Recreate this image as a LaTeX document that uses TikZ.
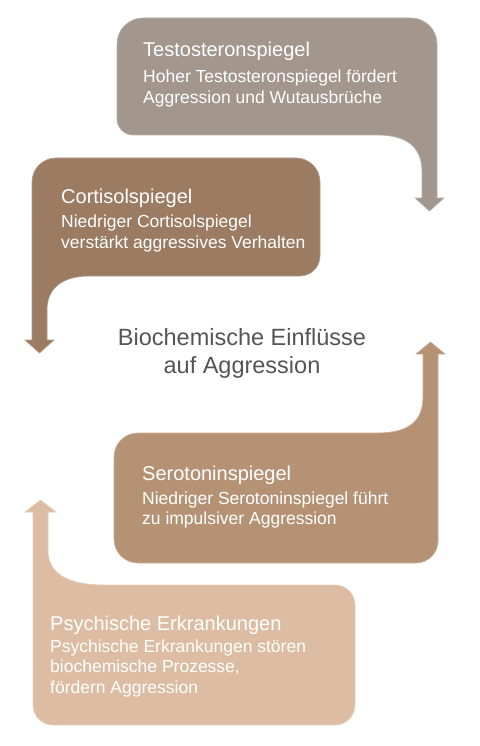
\documentclass[tikz,border=0pt]{standalone}
\usepackage{fontspec}
\setmainfont{Liberation Sans}
\definecolor{testoGrey}{HTML}{A2968D}
\definecolor{cortiBrown}{HTML}{9B7B61}
\definecolor{seroBrown}{HTML}{B69275}
\definecolor{psychSand}{HTML}{DCBDA3}
\definecolor{hubText}{HTML}{555555}
\tikzset{
  boxtitle/.style={anchor=base west, inner sep=0pt, text=white, font=\fontsize{20}{24}\selectfont},
  boxtext/.style={anchor=base west, inner sep=0pt, text=white, align=left, font=\fontsize{17.5}{20.5}\selectfont},
  callout/.style={fill=#1, draw=#1!75!white, line width=0.6pt}
}
\begin{document}
\begin{tikzpicture}[x=1pt, y=-1pt]
    \useasboundingbox[fill=white] (0,0) rectangle (479,746);
    \draw[callout=testoGrey] (117,44) .. controls (117,29.6) and (128.6,18) .. (143,18) -- (411,18) .. controls (425.4,18) and (437,29.6) .. (437,44) -- (437,198) -- (444,198) -- (429.5,211) -- (415,198) -- (422,198) -- (422,172) .. controls (422,148) and (408,135) .. (377,135) -- (133,135) .. controls (124.2,135) and (117,127.8) .. (117,119) -- cycle;
    \draw[callout=cortiBrown] (32,182) .. controls (32,168.7) and (42.7,158) .. (56,158) -- (296,158) .. controls (309.3,158) and (320,168.7) .. (320,182) -- (320,256) .. controls (320,267) and (311,276) .. (300,276) -- (90,276) .. controls (60,276) and (47,290) .. (47,310) -- (47,340) -- (54,340) -- (39.5,353) -- (25,340) -- (32,340) -- cycle;
    \draw[callout=seroBrown] (114,457) .. controls (114,443.7) and (124.7,433) .. (138,433) -- (377,433) .. controls (410,433) and (423,420) .. (423,397) -- (423,354) -- (416,354) -- (430.5,342) -- (445,354) -- (438,354) -- (438,541) .. controls (438,553.1) and (428.1,563) .. (416,563) -- (138,563) .. controls (124.7,563) and (114,552.3) .. (114,539) -- cycle;
    \draw[callout=psychSand] (33,705) -- (33,512) -- (25,512) -- (40.5,500) -- (56,512) -- (48,512) -- (48,550) .. controls (48,572) and (65,585) .. (105,585) -- (335,585) .. controls (346,585) and (355,594) .. (355,605) -- (355,705) .. controls (355,716) and (346,725) .. (335,725) -- (53,725) .. controls (42,725) and (33,716) .. (33,705) -- cycle;
    \node[boxtitle] (testoTitle) at (143,57) {Testosteronspiegel};
    \node[boxtext] (testoText) at (143,103.5) {Hoher Testosteronspiegel fördert\\Aggression und Wutausbrüche};
    \node[boxtitle] (cortiTitle) at (61,203) {Cortisolspiegel};
    \node[boxtext] (cortiText) at (61,248) {Niedriger Cortisolspiegel\\verstärkt aggressives Verhalten};
    \node[boxtitle] (seroTitle) at (142,480) {Serotoninspiegel};
    \node[boxtext] (seroText) at (142,524.5) {Niedriger Serotoninspiegel führt\\zu impulsiver Aggression};
    \node[boxtitle] (psychTitle) at (50,630) {Psychische Erkrankungen};
    \node[boxtext] (psychText) at (50,693) {Psychische Erkrankungen stören\\biochemische Prozesse,\\fördern Aggression};
    \node[anchor=base, inner sep=0pt, align=center, text=hubText, font=\fontsize{23.5}{28}\selectfont] (hub) at (242,373) {Biochemische Einflüsse\\auf Aggression};
\end{tikzpicture}
\end{document}
